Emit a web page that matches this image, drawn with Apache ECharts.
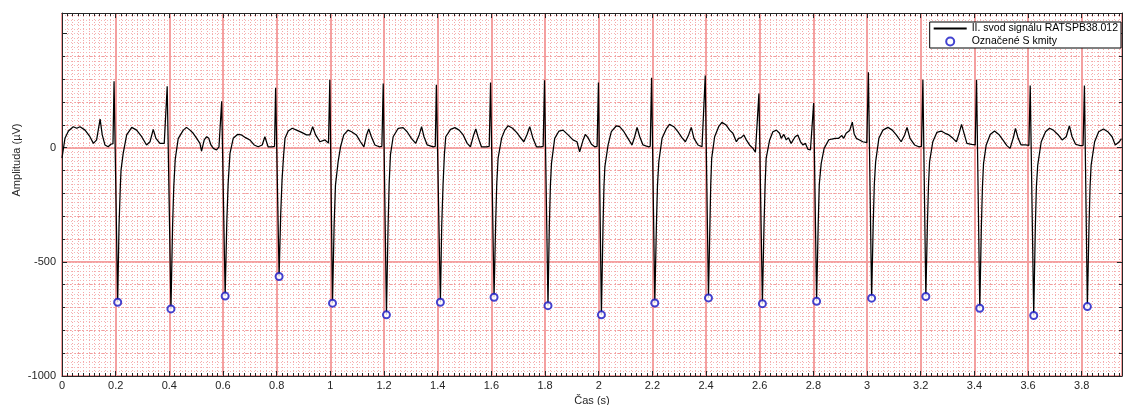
<!DOCTYPE html>
<html><head><meta charset="utf-8">
<script src="https://cdn.jsdelivr.net/npm/echarts@6/dist/echarts.min.js"></script>
<style>html,body{margin:0;padding:0;background:#fff}#c{width:1124px;height:405px}</style>
</head><body><div id="c"></div>
<script>
// ---- data ----
const ecgTime = [
 [0.000,0.011,0.024,0.042,0.055,0.067,0.086,0.104,0.117,0.129,0.142,0.150,0.160,0.172,0.182,0.190,0.194,0.2075],
 [0.2125,0.2175,0.2200,0.228,0.241,0.260,0.278,0.297,0.315,0.328,0.340,0.350,0.365,0.381,0.388,0.392,0.406],
 [0.412,0.4165,0.422,0.433,0.452,0.464,0.477,0.489,0.502,0.514,0.520,0.530,0.539,0.547,0.555,0.564,0.576,0.585,0.591,0.595,0.608],
 [0.614,0.619,0.626,0.638,0.654,0.669,0.684,0.700,0.716,0.731,0.746,0.756,0.768,0.783,0.792,0.796,0.809],
 [0.815,0.820,0.826,0.831,0.843,0.858,0.874,0.893,0.911,0.924,0.934,0.945,0.961,0.980,0.993,0.998,1.008],
 [1.014,1.019,1.029,1.038,1.050,1.066,1.079,1.097,1.112,1.125,1.135,1.143,1.153,1.166,1.182,1.192,1.197,1.209],
 [1.215,1.219,1.224,1.234,1.253,1.271,1.286,1.302,1.318,1.331,1.340,1.349,1.361,1.383,1.391,1.395,1.410],
 [1.415,1.420,1.425,1.430,1.448,1.464,1.480,1.495,1.510,1.522,1.534,1.542,1.552,1.563,1.582,1.592,1.597,1.610],
 [1.616,1.620,1.625,1.638,1.650,1.662,1.679,1.694,1.706,1.721,1.733,1.743,1.755,1.768,1.784,1.793,1.798,1.811],
 [1.816,1.820,1.824,1.836,1.852,1.867,1.886,1.904,1.919,1.929,1.942,1.950,1.960,1.973,1.985,1.994,1.999,2.010],
 [2.016,2.0195,2.023,2.035,2.047,2.066,2.078,2.094,2.109,2.124,2.134,2.143,2.153,2.165,2.184,2.192,2.197,2.209],
 [2.215,2.219,2.224,2.236,2.253,2.264,2.280,2.295,2.310,2.323,2.335,2.345,2.355,2.370,2.385,2.392,2.397,2.409],
 [2.4145,2.4175,2.421,2.432,2.447,2.459,2.475,2.488,2.500,2.513,2.521,2.531,2.541,2.550,2.562,2.575,2.584,2.591,2.597,2.610],
 [2.616,2.620,2.624,2.637,2.649,2.662,2.674,2.680,2.690,2.699,2.707,2.717,2.732,2.742,2.752,2.761,2.770,2.779,2.789,2.796,2.801,2.812],
 [2.818,2.822,2.829,2.840,2.857,2.869,2.881,2.894,2.906,2.913,2.922,2.935,2.945,2.952,2.960,2.972,2.984,2.999,3.005,3.017],
 [3.023,3.027,3.032,3.044,3.059,3.078,3.094,3.109,3.127,3.140,3.149,3.160,3.177,3.193,3.203,3.208,3.219],
 [3.225,3.229,3.233,3.245,3.260,3.276,3.291,3.305,3.320,3.333,3.343,3.352,3.363,3.372,3.389,3.403,3.408,3.420],
 [3.426,3.430,3.434,3.444,3.459,3.475,3.491,3.506,3.521,3.533,3.546,3.553,3.563,3.574,3.590,3.603,3.608,3.621],
 [3.627,3.631,3.636,3.649,3.665,3.680,3.694,3.711,3.727,3.742,3.754,3.764,3.777,3.794,3.805,3.810,3.821],
 [3.827,3.831,3.835,3.848,3.863,3.881,3.897,3.913,3.925,3.940,3.948]
];
const ecgAmp = [
 [-45,41,73,92,85,92,77,48,19,34,125,56,12,4,15,18,291,-677],
 [-340,-165,-98,-25,56,89,77,48,12,26,80,41,19,19,22,269,-706],
 [-345,-171,-50,40,77,89,77,63,41,19,-15,34,48,41,12,-3,-10,4,0,203,-650],
 [-330,-160,-25,41,58,56,44,34,12,4,12,48,4,4,6,262,-564],
 [-290,-140,-30,41,73,85,77,67,56,56,92,56,26,34,20,298,-681],
 [-340,-165,-61,4,56,77,70,56,26,4,56,82,48,12,4,6,281,-732],
 [-350,-160,-30,48,85,88,70,41,19,56,92,48,12,4,6,276,-677],
 [-340,-160,-30,48,80,88,77,56,19,4,56,82,41,4,4,6,286,-655],
 [-330,-160,-47,41,77,96,85,67,48,26,58,92,41,4,4,6,295,-692],
 [-340,-165,-69,41,73,77,56,34,26,-18,34,58,44,15,4,6,286,-732],
 [-350,-170,-83,12,70,96,92,70,41,12,48,89,48,12,4,6,306,-680],
 [-340,-165,-61,41,85,102,92,70,44,26,56,89,41,12,4,6,316,-658],
 [-330,-160,-47,48,92,111,99,77,63,26,41,44,56,34,12,-3,-20,-15,237,-683],
 [-340,-165,-47,34,70,77,63,41,58,34,44,19,48,56,26,12,19,-6,-10,-8,196,-673],
 [-330,-160,-70,-3,34,38,41,41,53,41,63,75,112,60,41,34,26,22,330,-659],
 [-330,-160,-61,41,77,89,77,56,26,56,89,41,12,4,6,298,-652],
 [-330,-160,-61,26,67,73,63,56,41,26,63,102,56,19,15,12,298,-703],
 [-345,-170,-70,12,58,73,58,34,9,-3,48,85,41,12,12,10,272,-735],
 [-350,-170,-76,26,70,85,77,58,34,48,96,48,15,9,10,272,-696],
 [-345,-170,-76,26,70,82,70,48,12,26,40]
];
const sTime = [0.2075,0.406,0.608,0.809,1.008,1.209,1.410,1.610,1.811,2.010,2.209,2.409,2.610,2.812,3.017,3.219,3.420,3.621,3.821];
const sAmp  = [-677,-706,-650,-564,-681,-732,-677,-655,-692,-732,-680,-658,-683,-673,-659,-652,-703,-735,-696];
const seriesNames = ['II. svod signálu RATSPB38.012', 'Označené S kmity'];
const xAxisTitle = 'Čas (s)';
const yAxisTitle = 'Amplituda (µV)';

// ---- build ----
const ecgData = [];
ecgTime.forEach((row, b) => row.forEach((t, i) => ecgData.push([t, ecgAmp[b][i]])));
const sData = sTime.map((t, i) => [t, sAmp[i]]);

const FONT = '"Liberation Sans", Arial, sans-serif';
const MAJOR = '#f4a0a0';
const AXC = '#262626';
const chart = echarts.init(document.getElementById('c'), null, {renderer: 'canvas'});
chart.setOption({
  animation: false,
  backgroundColor: '#fff',
  grid: {left: 62, right: 2, top: 13, bottom: 29, containLabel: false, outerBoundsMode: 'none'},
  xAxis: [{
    type: 'value', min: 0, max: 3.95, interval: 0.2, position: 'bottom',
    axisLine: {show: true, onZero: false, lineStyle: {color: AXC, width: 1}},
    axisTick: {show: true, inside: true, length: 5, lineStyle: {color: AXC}},
    minorTick: {show: true, splitNumber: 10, length: 3, lineStyle: {color: AXC}},
    splitLine: {show: true, lineStyle: {color: MAJOR, width: 2}},
    minorSplitLine: {show: true, lineStyle: {color: '#f4a9a9', width: 1, type: [1, 2]}},
    axisLabel: {formatter: v => String(+v.toFixed(1)), fontSize: 11, color: AXC, margin: 4, fontFamily: FONT, showMaxLabel: false},
    name: xAxisTitle, nameLocation: 'middle', nameGap: 14,
    nameTextStyle: {fontSize: 11, color: AXC, fontFamily: FONT}
  }, {
    type: 'value', min: 0, max: 3.95, interval: 0.2, position: 'top',
    axisLine: {show: true, onZero: false, lineStyle: {color: AXC, width: 1}},
    axisTick: {show: true, inside: true, length: 5, lineStyle: {color: AXC}},
    minorTick: {show: true, splitNumber: 10, length: 3, lineStyle: {color: AXC}},
    splitLine: {show: false}, axisLabel: {show: false}
  }],
  yAxis: [{
    type: 'value', min: -1000, max: 590, interval: 500, position: 'left',
    axisLine: {show: true, onZero: false, lineStyle: {color: AXC, width: 1}},
    axisTick: {show: true, inside: true, length: 5, lineStyle: {color: AXC}},
    minorTick: {show: true, splitNumber: 5, length: 3, lineStyle: {color: AXC}},
    splitLine: {show: true, lineStyle: {color: [MAJOR, MAJOR, MAJOR, 'rgba(0,0,0,0)', 'rgba(0,0,0,0)'], width: 2}},
    minorSplitLine: {show: true, lineStyle: {color: '#f19c9c', width: 1, type: [2, 2]}},
    axisLabel: {formatter: v => (v === 500 ? '' : String(v)), fontSize: 11, color: AXC, margin: 6, fontFamily: FONT, showMaxLabel: false}
  }, {
    type: 'value', min: -1000, max: 590, interval: 20, position: 'left',
    axisLine: {show: false}, axisTick: {show: false}, axisLabel: {show: false},
    splitLine: {show: true, lineStyle: {color: '#f6b6b6', width: 1, type: [1, 2]}}
  }, {
    type: 'value', min: -1000, max: 590, interval: 500, position: 'right',
    axisLine: {show: true, onZero: false, lineStyle: {color: AXC, width: 1}},
    axisTick: {show: true, inside: true, length: 5, lineStyle: {color: AXC}},
    minorTick: {show: true, splitNumber: 5, length: 3, lineStyle: {color: AXC}},
    splitLine: {show: false}, axisLabel: {show: false}
  }],
  legend: {
    orient: 'vertical', right: 3, top: 22,
    itemWidth: 33, itemHeight: 8, itemGap: 2,
    padding: [1, 3, 1, 3],
    borderColor: '#000', borderWidth: 1, backgroundColor: '#fff',
    textStyle: {fontSize: 10.5, color: '#000', fontFamily: FONT},
    data: [
      {name: seriesNames[0], itemStyle: {opacity: 0}},
      {name: seriesNames[1], icon: 'emptyCircle'}
    ]
  },
  graphic: [{
    type: 'text', x: 17, y: 160, rotation: Math.PI / 2,
    style: {text: yAxisTitle, x: 0, y: 0, align: 'center', verticalAlign: 'middle',
      textAlign: 'center', textVerticalAlign: 'middle',
      font: '11px "Liberation Sans", Arial, sans-serif', fill: AXC}
  }],
  series: [{
    name: seriesNames[0], type: 'line', data: ecgData,
    xAxisIndex: 0, yAxisIndex: 0, symbol: 'none', smooth: false,
    lineStyle: {color: '#000', width: 1.25}, itemStyle: {color: '#000'}, z: 3
  }, {
    name: seriesNames[1], type: 'scatter', data: sData,
    xAxisIndex: 0, yAxisIndex: 0, symbol: 'emptyCircle', symbolSize: 7,
    itemStyle: {color: '#1414c4', borderColor: '#1414c4', borderWidth: 1.2}, z: 4
  }]
});
</script></body></html>
